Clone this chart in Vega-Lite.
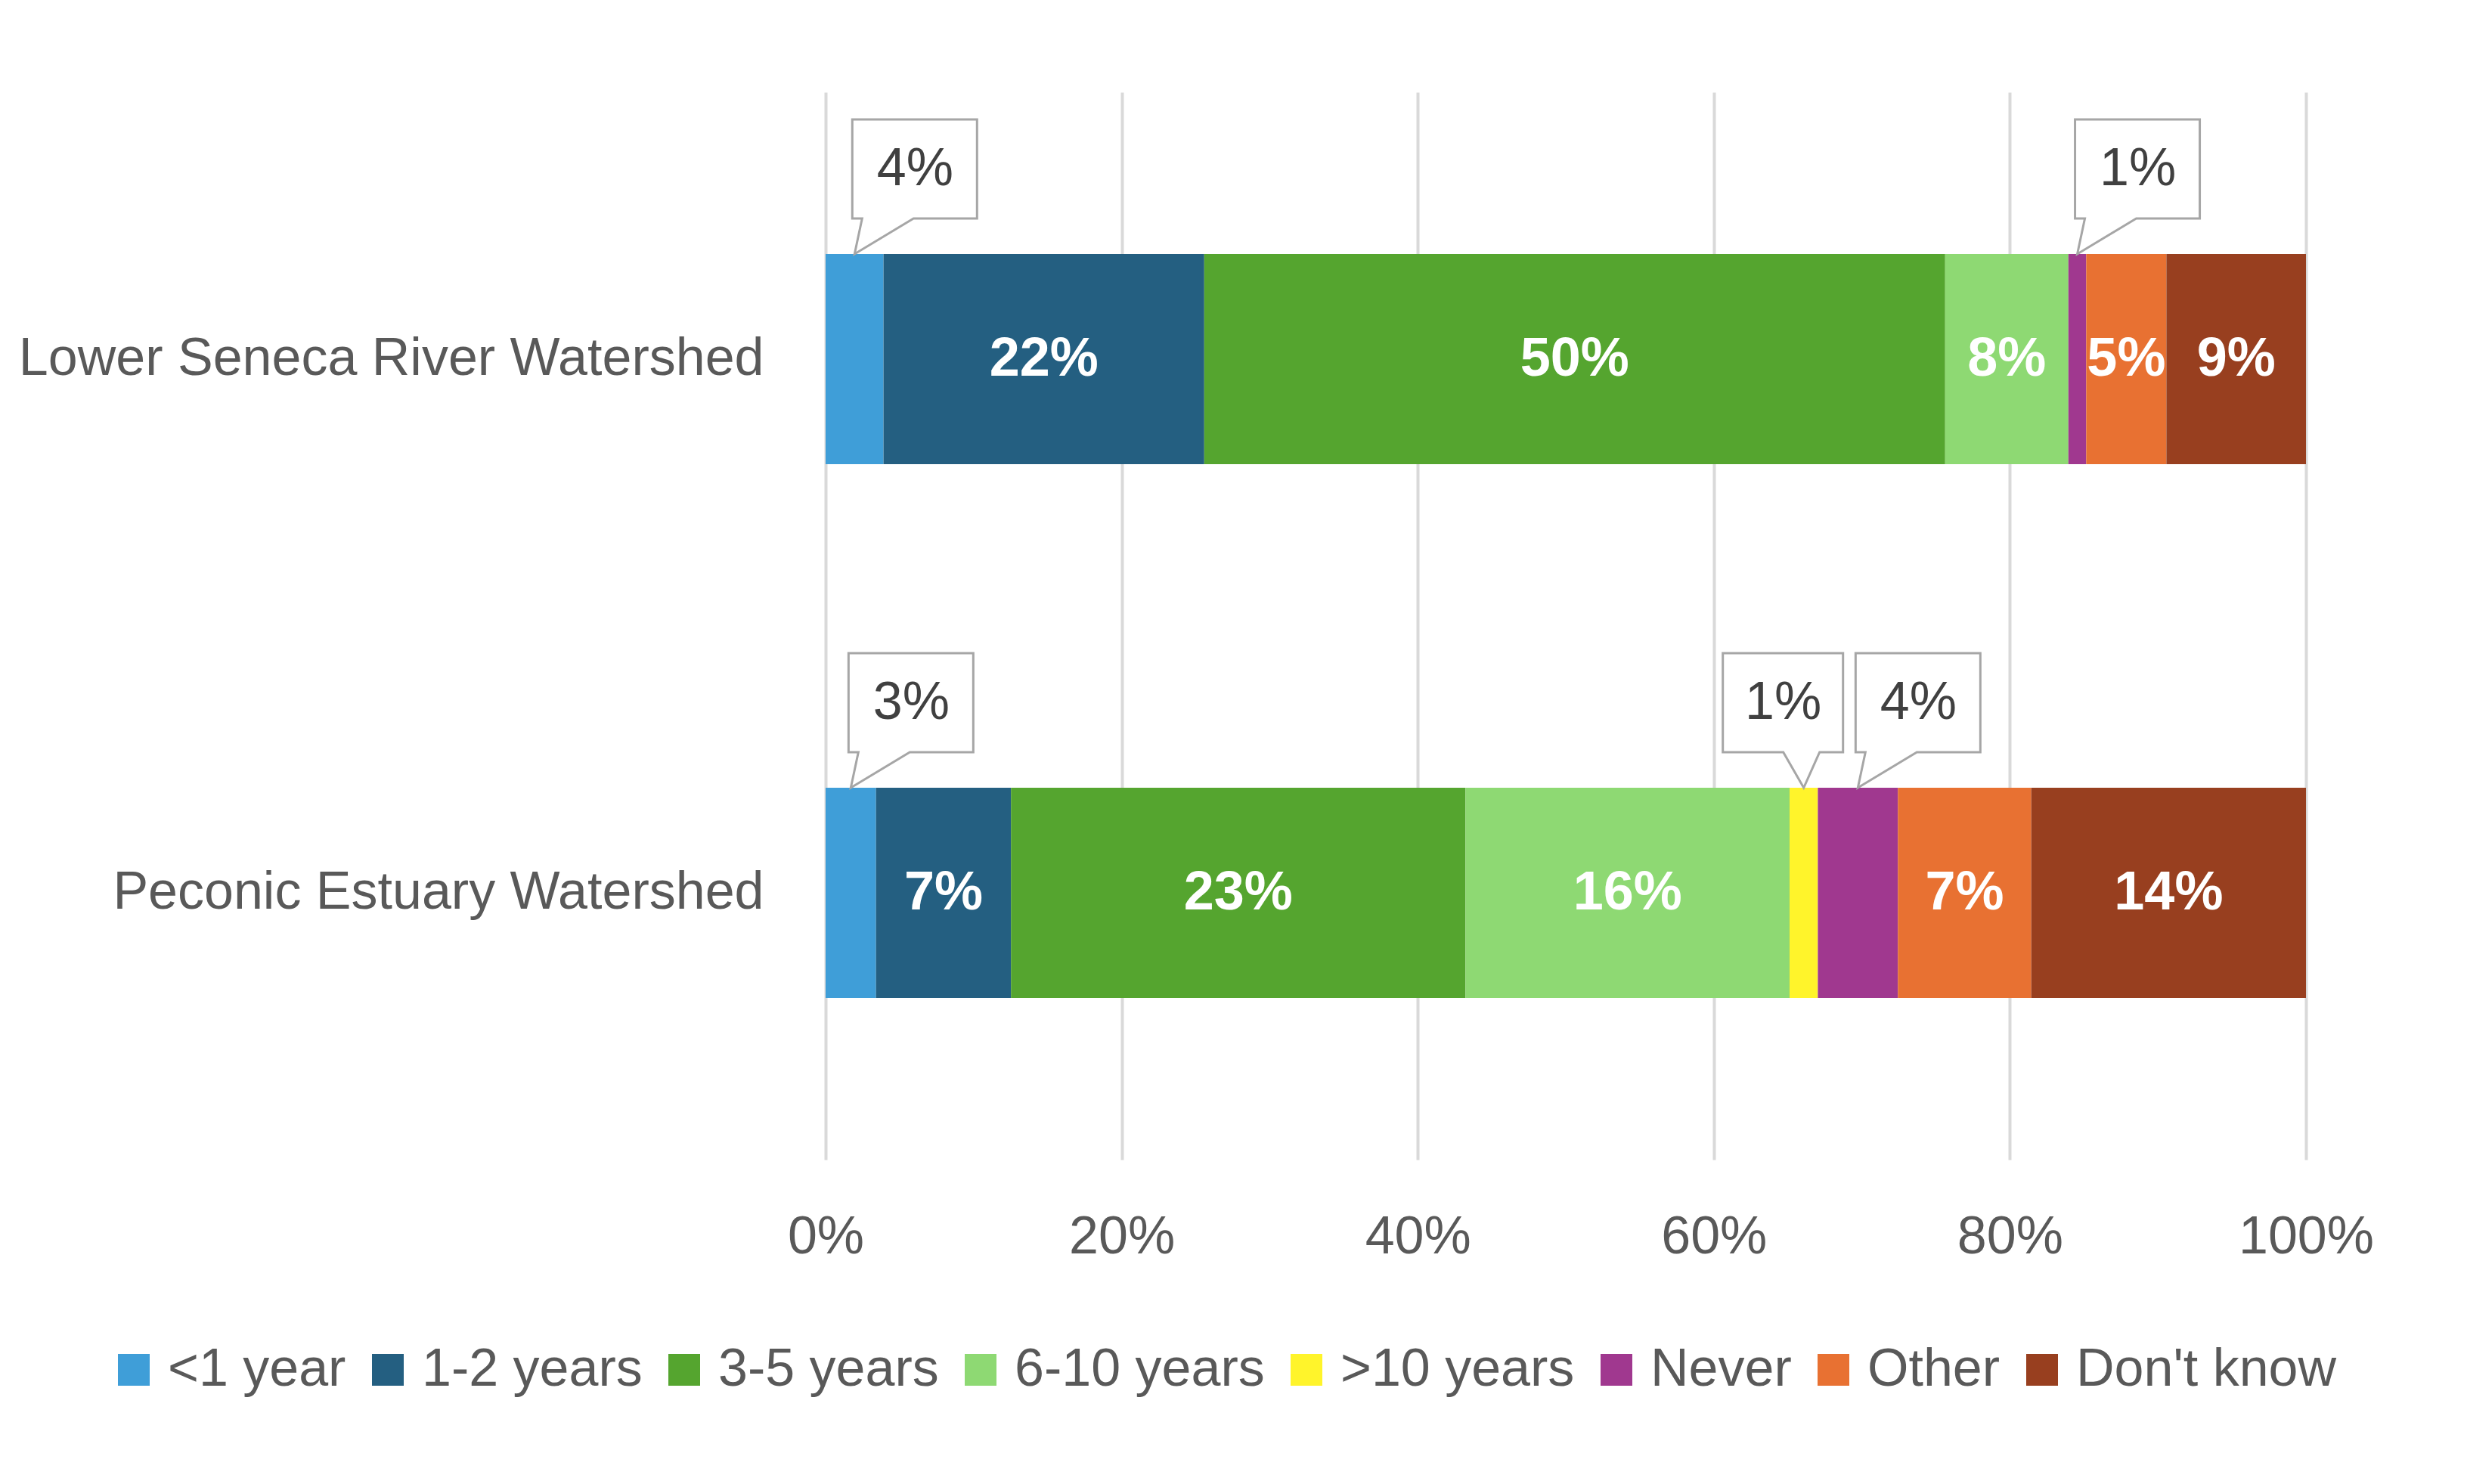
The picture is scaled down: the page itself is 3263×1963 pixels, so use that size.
{
  "$schema": "https://vega.github.io/schema/vega-lite/v6.json",
  "autosize": "none",
  "width": 1958,
  "height": 1412,
  "padding": {"left": 1092, "top": 122, "right": 213, "bottom": 429},
  "background": "white",
  "data": {
    "values": [
      {"watershed": "Lower Seneca River Watershed", "category": "<1 year", "pct": 0.039},
      {"watershed": "Lower Seneca River Watershed", "category": "1-2 years", "pct": 0.216},
      {"watershed": "Lower Seneca River Watershed", "category": "3-5 years", "pct": 0.499},
      {"watershed": "Lower Seneca River Watershed", "category": "6-10 years", "pct": 0.083},
      {"watershed": "Lower Seneca River Watershed", "category": ">10 years", "pct": 0},
      {"watershed": "Lower Seneca River Watershed", "category": "Never", "pct": 0.012},
      {"watershed": "Lower Seneca River Watershed", "category": "Other", "pct": 0.054},
      {"watershed": "Lower Seneca River Watershed", "category": "Don't know", "pct": 0.094},
      {"watershed": "Peconic Estuary Watershed", "category": "<1 year", "pct": 0.0255},
      {"watershed": "Peconic Estuary Watershed", "category": "1-2 years", "pct": 0.0683},
      {"watershed": "Peconic Estuary Watershed", "category": "3-5 years", "pct": 0.230},
      {"watershed": "Peconic Estuary Watershed", "category": "6-10 years", "pct": 0.164},
      {"watershed": "Peconic Estuary Watershed", "category": ">10 years", "pct": 0.0143},
      {"watershed": "Peconic Estuary Watershed", "category": "Never", "pct": 0.0405},
      {"watershed": "Peconic Estuary Watershed", "category": "Other", "pct": 0.0675},
      {"watershed": "Peconic Estuary Watershed", "category": "Don't know", "pct": 0.139}
    ]
  },
  "transform": [
    {"calculate": "indexof(['<1 year', '1-2 years', '3-5 years', '6-10 years', '>10 years', 'Never', 'Other', \"Don't know\"], datum.category)", "as": "order"},
    {"stack": "pct", "groupby": ["watershed"], "sort": [{"field": "order", "order": "ascending"}], "offset": "normalize", "as": ["x0", "x1"]},
    {"calculate": "(datum.x0 + datum.x1) / 2", "as": "mid"}
  ],
  "encoding": {
    "y": {
      "field": "watershed",
      "type": "nominal",
      "sort": ["Lower Seneca River Watershed", "Peconic Estuary Watershed"],
      "scale": {"paddingInner": 0, "paddingOuter": 0},
      "axis": {
        "title": null,
        "domain": false,
        "ticks": false,
        "labelFont": "Liberation Sans",
        "labelFontSize": 70,
        "labelColor": "#595959",
        "labelPadding": 82,
        "labelLimit": 2000
      }
    }
  },
  "layer": [
    {
      "mark": {"type": "bar", "size": 278},
      "encoding": {
        "x": {
          "field": "x0",
          "type": "quantitative",
          "scale": {"domain": [0, 1], "nice": false},
          "axis": {
            "title": null,
            "format": ".0%",
            "values": [0, 0.2, 0.4, 0.6, 0.8, 1],
            "domain": false,
            "ticks": false,
            "grid": true,
            "gridColor": "#D9D9D9",
            "gridWidth": 4,
            "labelFlush": false,
            "labelFont": "Liberation Sans",
            "labelFontSize": 70,
            "labelColor": "#595959",
            "labelPadding": 68
          }
        },
        "x2": {"field": "x1"},
        "color": {
          "field": "category",
          "type": "nominal",
          "scale": {
            "domain": ["<1 year", "1-2 years", "3-5 years", "6-10 years", ">10 years", "Never", "Other", "Don't know"],
            "range": ["#3F9ED8", "#245F81", "#55A52F", "#8ED973", "#FFF42B", "#A0388F", "#E87132", "#983F1F"]
          },
          "legend": {
            "title": null,
            "orient": "none",
            "direction": "horizontal",
            "columns": 8,
            "legendX": -950,
            "legendY": 1655,
            "symbolType": "square",
            "symbolSize": 1764,
            "symbolStrokeWidth": 0,
            "symbolOpacity": 1,
            "labelFont": "Liberation Sans",
            "labelFontSize": 70,
            "labelColor": "#595959",
            "labelOffset": 10,
            "labelLimit": 1000,
            "columnPadding": 20
          }
        }
      }
    },
    {
      "transform": [{"filter": "datum.pct >= 0.045"}],
      "mark": {"type": "text", "font": "Liberation Sans", "fontSize": 72, "fontWeight": "bold", "color": "white", "baseline": "middle", "align": "center"},
      "encoding": {
        "x": {"field": "mid", "type": "quantitative", "scale": {"domain": [0, 1], "nice": false}},
        "text": {"field": "pct", "type": "quantitative", "format": ".0%"}
      }
    },
    {
      "transform": [{"filter": "datum.pct > 0 && datum.pct < 0.045"}],
      "mark": {"type": "point", "filled": true, "fill": "white", "stroke": "#A6A6A6", "strokeWidth": 3, "size": 4, "opacity": 1},
      "encoding": {
        "x": {"field": "mid", "type": "quantitative", "scale": {"domain": [0, 1], "nice": false}},
        "shape": {
          "condition": {"test": "datum.category === '>10 years'", "value": "M-107,-317 L52,-317 L52,-186 L21,-186 L0,-139 L-27,-186 L-107,-186 Z"},
          "value": "M-3,-317 L162,-317 L162,-186 L78,-186 L0,-139 L10,-186 L-3,-186 Z"
        }
      }
    },
    {
      "transform": [{"filter": "datum.pct > 0 && datum.pct < 0.045 && datum.category !== '>10 years'"}],
      "mark": {"type": "text", "font": "Liberation Sans", "fontSize": 70, "color": "#404040", "baseline": "middle", "align": "center", "dx": 80, "dy": -251},
      "encoding": {
        "x": {"field": "mid", "type": "quantitative", "scale": {"domain": [0, 1], "nice": false}},
        "text": {"field": "pct", "type": "quantitative", "format": ".0%"}
      }
    },
    {
      "transform": [{"filter": "datum.pct > 0 && datum.pct < 0.045 && datum.category === '>10 years'"}],
      "mark": {"type": "text", "font": "Liberation Sans", "fontSize": 70, "color": "#404040", "baseline": "middle", "align": "center", "dx": -27, "dy": -251},
      "encoding": {
        "x": {"field": "mid", "type": "quantitative", "scale": {"domain": [0, 1], "nice": false}},
        "text": {"field": "pct", "type": "quantitative", "format": ".0%"}
      }
    }
  ],
  "config": {
    "view": {"stroke": null},
    "font": "Liberation Sans"
  }
}
